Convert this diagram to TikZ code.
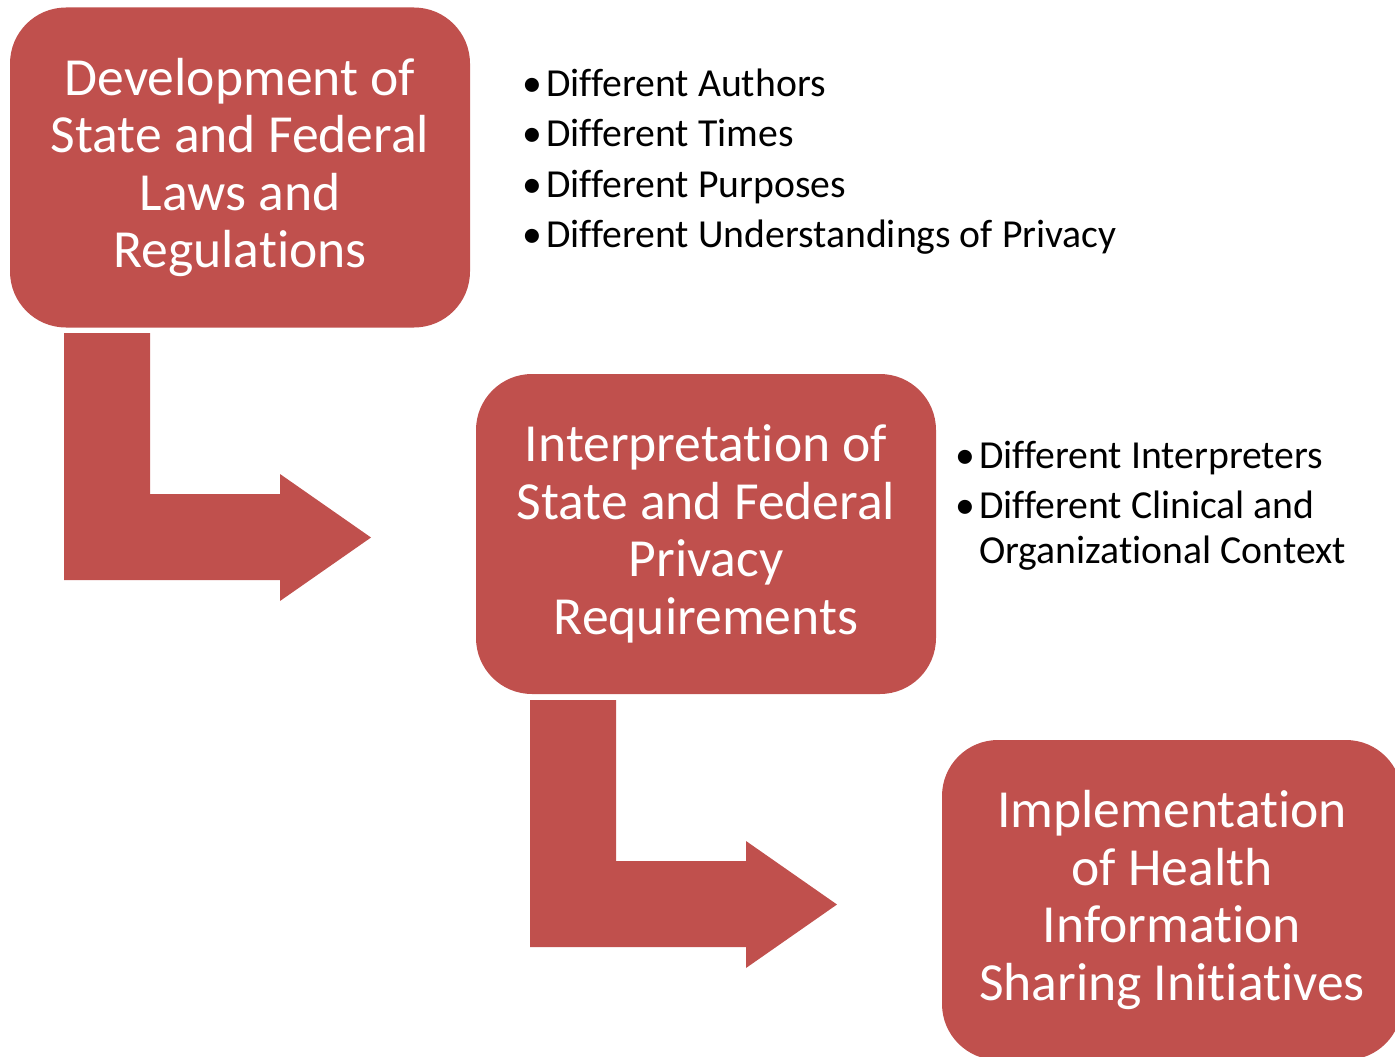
\documentclass[tikz,border=0pt]{standalone}
\usepackage{fontspec}
\setmainfont{Carlito}[Ligatures=NoCommon, RawFeature=-clig]
\definecolor{boxred}{HTML}{C0504D}
\newcommand{\tI}{t\kern0pt i}
\begin{document}
\begin{tikzpicture}[x=1pt,y=-1pt,
  box/.style={fill=boxred, draw=none, rounded corners=56pt, minimum width=460pt, minimum height=320pt,
    text=white, align=center, inner sep=0pt, font=\fontsize{53.6}{57.5}\selectfont},
  bul/.style={anchor=base west, inner sep=0pt, font=\fontsize{39.7}{45}\selectfont, text=black},
  arrowshape/.style={fill=boxred, draw=none}]
\useasboundingbox (0,0) rectangle (1395,1057);
\clip (0,0) rectangle (1395,1057);
% arrows
\fill[arrowshape] (64,333) -- (150,333) -- (150,494) -- (280,494) -- (280,474) -- (371,537.5) -- (280,601) -- (280,580) -- (64,580) -- cycle;
\fill[arrowshape] (530,700) -- (616,700) -- (616,861) -- (746,861) -- (746,841) -- (837,904.5) -- (746,968) -- (746,947) -- (530,947) -- cycle;
% boxes
\node[box] (b1) at (240,167.5) {Development of\\State and Federal\\Laws and\\Regula\tI{}ons};
\node[box] (b2) at (706,534) {Interpreta\tI{}on of\\State and Federal\\Privacy\\Requirements};
\node[box] (b3) at (1172,900) {Implementa\tI{}on\\of Health\\Informa\tI{}on\\Sharing Ini\tI{}a\tI{}ves};
% bullets list 1
\node[bul] (d1) at (522,96) {•};
\node[bul] (t1) at (546,96) {Different Authors};
\node[bul] (d2) at (522,146.5) {•};
\node[bul] (t2) at (546,146.5) {Different Times};
\node[bul] (d3) at (522,197) {•};
\node[bul] (t3) at (546,197) {Different Purposes};
\node[bul] (d4) at (522,247.5) {•};
\node[bul] (t4) at (546,247.5) {Different Understandings of Privacy};
% bullets list 2
\node[bul] (e1) at (955,468) {•};
\node[bul] (u1) at (979,468) {Different Interpreters};
\node[bul] (e2) at (955,518) {•};
\node[bul] (u2) at (979,518) {Different Clinical and};
\node[bul] (u3) at (979,563) {Organiza\tI{}onal Context};
\end{tikzpicture}
\end{document}
